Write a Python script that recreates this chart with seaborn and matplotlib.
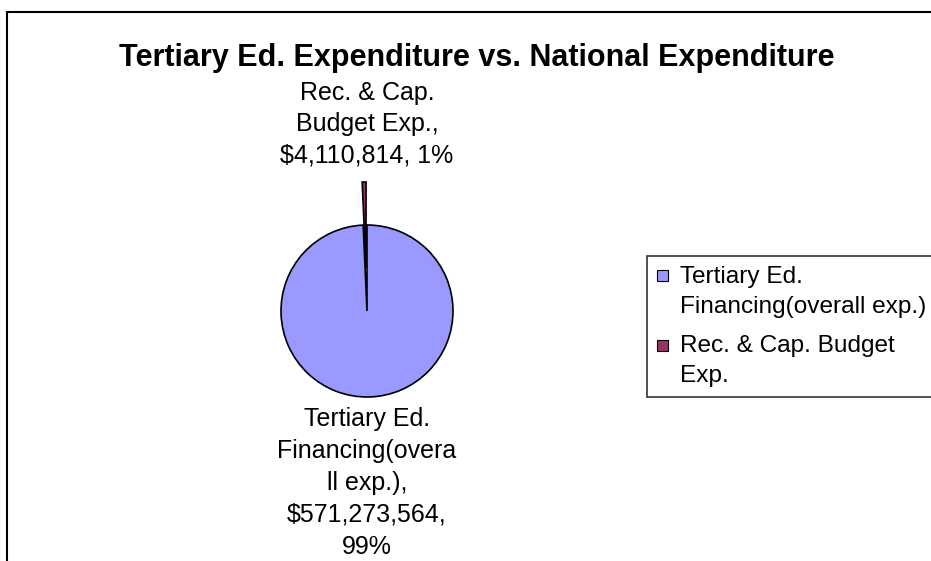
import matplotlib
matplotlib.use("Agg")
import matplotlib.pyplot as plt
import seaborn as sns
from matplotlib.patches import Rectangle

categories = ["Tertiary Ed. Financing(overall exp.)", "Rec. & Cap. Budget Exp."]
amounts = [571273564, 4110814]
percent_labels = ["99%", "1%"]
legend_labels = ["Tertiary Ed.\nFinancing(overall exp.)", "Rec. & Cap. Budget\nExp."]
slice_labels = ["Tertiary Ed.\nFinancing(overa\nll exp.),\n$571,273,564,\n99%",
                "Rec. & Cap.\nBudget Exp.,\n$4,110,814, 1%"]
colors = ["#9999FF", "#993366"]

sns.set_theme(style="white")
plt.rcParams['font.family'] = ['Liberation Sans', 'DejaVu Sans']
plt.rcParams['text.color'] = 'black'

W, H = 931, 561
fig = plt.figure(figsize=(W / 100, H / 100), dpi=100)
fig.patch.set_facecolor("white")

# chart border (cut off on the right and bottom like the original)
fig.patches.append(Rectangle((7 / W, -0.1), 1.2, 1.1 - 12 / H, transform=fig.transFigure,
                             fill=False, edgecolor="black", linewidth=1.5))

ax = fig.add_axes([0, 0, 1, 1])
ax.set_xlim(0, W)
ax.set_ylim(0, H)
ax.set_aspect("equal")
ax.axis("off")

cx, cy, r = 367, H - 311, 86
# explode is in data units here (pixels), so offset = half the radius
wedges, _ = ax.pie(amounts, colors=colors, startangle=90, counterclock=False,
                   explode=[0, 0.5 * r], center=(cx, cy), radius=r,
                   wedgeprops=dict(edgecolor="black", linewidth=1.2))
ax.set_xlim(0, W)
ax.set_ylim(0, H)

ax.text(cx, cy - r - 10, slice_labels[0], ha="center", va="top", fontsize=18,
        linespacing=1.42)
ax.text(cx, H - 167, slice_labels[1], ha="center", va="bottom", fontsize=18,
        linespacing=1.38)

fig.text(477 / W, 1 - 58 / H, "Tertiary Ed. Expenditure vs. National Expenditure",
         ha="center", va="center", fontsize=22, fontweight="bold")

leg = fig.legend(wedges, legend_labels, loc="upper left",
                 bbox_to_anchor=(647 / W, 1 - 256 / H), frameon=True, fancybox=False,
                 fontsize=17.6, handlelength=0.45, handleheight=0.33, handletextpad=0.5,
                 borderaxespad=0, borderpad=0.4, labelspacing=0.72)
leg.get_frame().set_edgecolor("black")
leg.get_frame().set_linewidth(1.2)
for t in leg.get_texts():
    t.set_linespacing(1.46)
# put the little squares next to the first line of each entry
for h in leg.legend_handles:
    h.set_edgecolor("black")
    h.set_linewidth(0.8)
    h.set_y(h.get_y() + 11.3)

fig.savefig("out.png", dpi=100)
